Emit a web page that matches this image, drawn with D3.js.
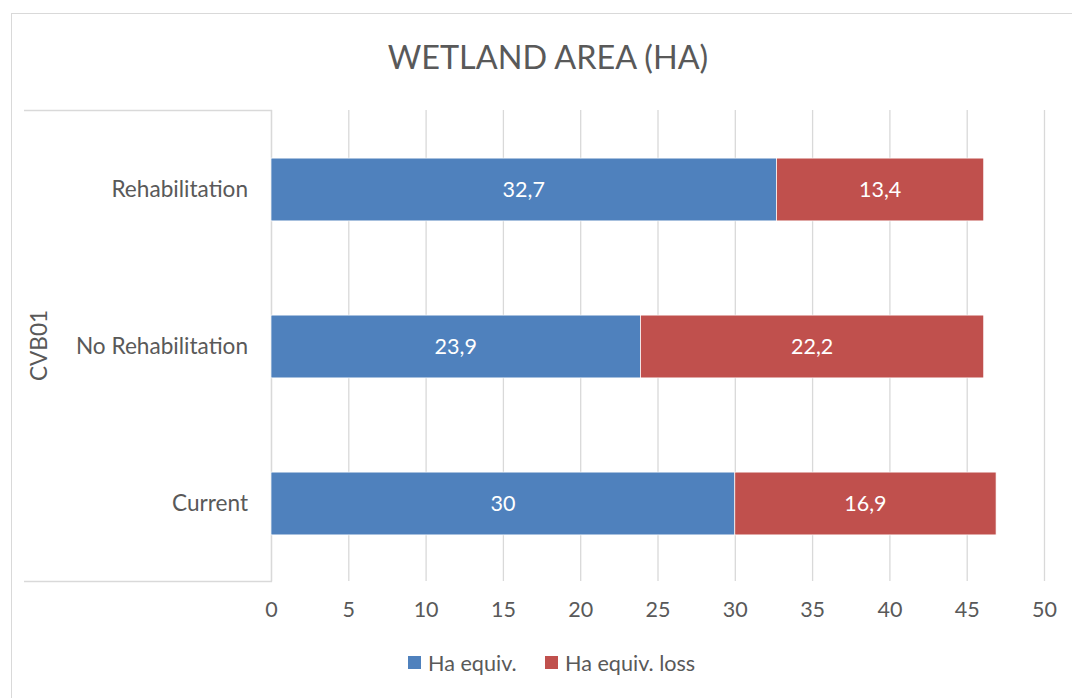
<!DOCTYPE html>
<html>
<head>
<meta charset="utf-8">
<script src="https://cdn.jsdelivr.net/npm/d3@7"></script>
<style>
  body { margin: 0; background: #fff; }
  svg { font-family: Lato, "Open Sans", sans-serif; }
</style>
</head>
<body>
<svg width="1072" height="698"></svg>
<script>
// chart values
var categories = ["Rehabilitation", "No Rehabilitation", "Current"];
var haEquiv = [32.7, 23.9, 30];
var haLoss = [13.4, 22.2, 16.9];
var seriesNames = ["Ha equiv.", "Ha equiv. loss"];
var xTicks = [0, 5, 10, 15, 20, 25, 30, 35, 40, 45, 50];
var groupLabel = "CVB01";

var svg = d3.select("svg"),
    margin = {top: 110, right: 28, bottom: 117, left: 271},
    width = 1072 - margin.left - margin.right,
    height = 698 - margin.top - margin.bottom,
    textColor = "#595959",
    gridColor = "#d9d9d9",
    colors = ["#4f81bd", "#c0504d"];

// chart border
svg.append("rect")
    .attr("x", 11.5).attr("y", 13.5)
    .attr("width", 1100).attr("height", 700)
    .attr("fill", "none")
    .attr("stroke", gridColor)
    .attr("stroke-width", 1);

svg.append("text")
    .attr("x", 548).attr("y", 69)
    .attr("text-anchor", "middle")
    .attr("fill", textColor)
    .style("font-size", "32.4px")
    .text("WETLAND AREA (HA)");

var g = svg.append("g").attr("transform", "translate(" + margin.left + "," + margin.top + ")");

var x = d3.scaleLinear().domain([0, 50]).range([0, width]),
    y = d3.scaleBand().domain(categories).range([0, height]).paddingInner(0.6).paddingOuter(0.3);

// gridlines
g.append("g")
    .selectAll("line")
    .data(xTicks)
    .enter().append("line")
    .attr("x1", function (d) { return x(d) + 0.5; })
    .attr("x2", function (d) { return x(d) + 0.5; })
    .attr("y1", 0)
    .attr("y2", height)
    .attr("stroke", gridColor)
    .attr("stroke-width", 1.3);

// category group box on the left
g.append("path")
    .attr("d", "M-247,0.5H0.5V" + (height + 0.5) + "H-247")
    .attr("fill", "none")
    .attr("stroke", gridColor)
    .attr("stroke-width", 1.3);

var xAxis = g.append("g")
    .attr("transform", "translate(0," + height + ")")
    .call(d3.axisBottom(x).tickValues(xTicks).tickSize(0).tickPadding(21));
xAxis.select(".domain").remove();
xAxis.selectAll("text")
    .attr("fill", textColor)
    .style("font-family", "Lato, sans-serif")
    .style("font-size", "21.5px");

var yAxis = g.append("g")
    .attr("transform", "translate(0,1)")
    .call(d3.axisLeft(y).tickSize(0).tickPadding(23));
yAxis.select(".domain").remove();
yAxis.selectAll("text")
    .attr("fill", textColor)
    .style("font-family", "Lato, sans-serif")
    .style("font-size", "22.6px");

svg.append("text")
    .attr("transform", "translate(47," + (margin.top + height / 2) + ") rotate(-90)")
    .attr("text-anchor", "middle")
    .attr("fill", textColor)
    .style("font-size", "22.6px")
    .text(groupLabel);

var rows = categories.map(function (c, i) {
    return {cat: c, parts: [{s: 0, x0: 0, v: haEquiv[i]}, {s: 1, x0: haEquiv[i], v: haLoss[i]}]};
});

var fmt = function (v) { return String(v).replace(".", ","); };

var row = g.selectAll(".row")
    .data(rows)
    .enter().append("g")
    .attr("class", "row")
    .attr("transform", function (d) { return "translate(0," + (y(d.cat) + 1) + ")"; });

row.selectAll("rect")
    .data(function (d) { return d.parts; })
    .enter().append("rect")
    .attr("x", function (d) { return x(d.x0); })
    .attr("width", function (d) { return x(d.x0 + d.v) - x(d.x0); })
    .attr("height", y.bandwidth())
    .attr("fill", function (d) { return colors[d.s]; })
    .attr("stroke", "#fff")
    .attr("stroke-width", 0.7);

row.selectAll("text")
    .data(function (d) { return d.parts; })
    .enter().append("text")
    .attr("x", function (d) { return x(d.x0 + d.v / 2); })
    .attr("y", y.bandwidth() / 2)
    .attr("dy", "0.35em")
    .attr("text-anchor", "middle")
    .attr("fill", "#fff")
    .style("font-size", "21.5px")
    .text(function (d) { return fmt(d.v); });

// legend
var legend = svg.append("g");
var legX = [408, 545];
seriesNames.forEach(function (n, i) {
    legend.append("rect")
        .attr("x", legX[i]).attr("y", 656)
        .attr("width", 13).attr("height", 13)
        .attr("fill", colors[i]);
    legend.append("text")
        .attr("x", legX[i] + 20).attr("y", 663)
        .attr("dy", "0.35em")
        .attr("fill", textColor)
        .style("font-size", "21.6px")
        .text(n);
});
</script>
</body>
</html>
